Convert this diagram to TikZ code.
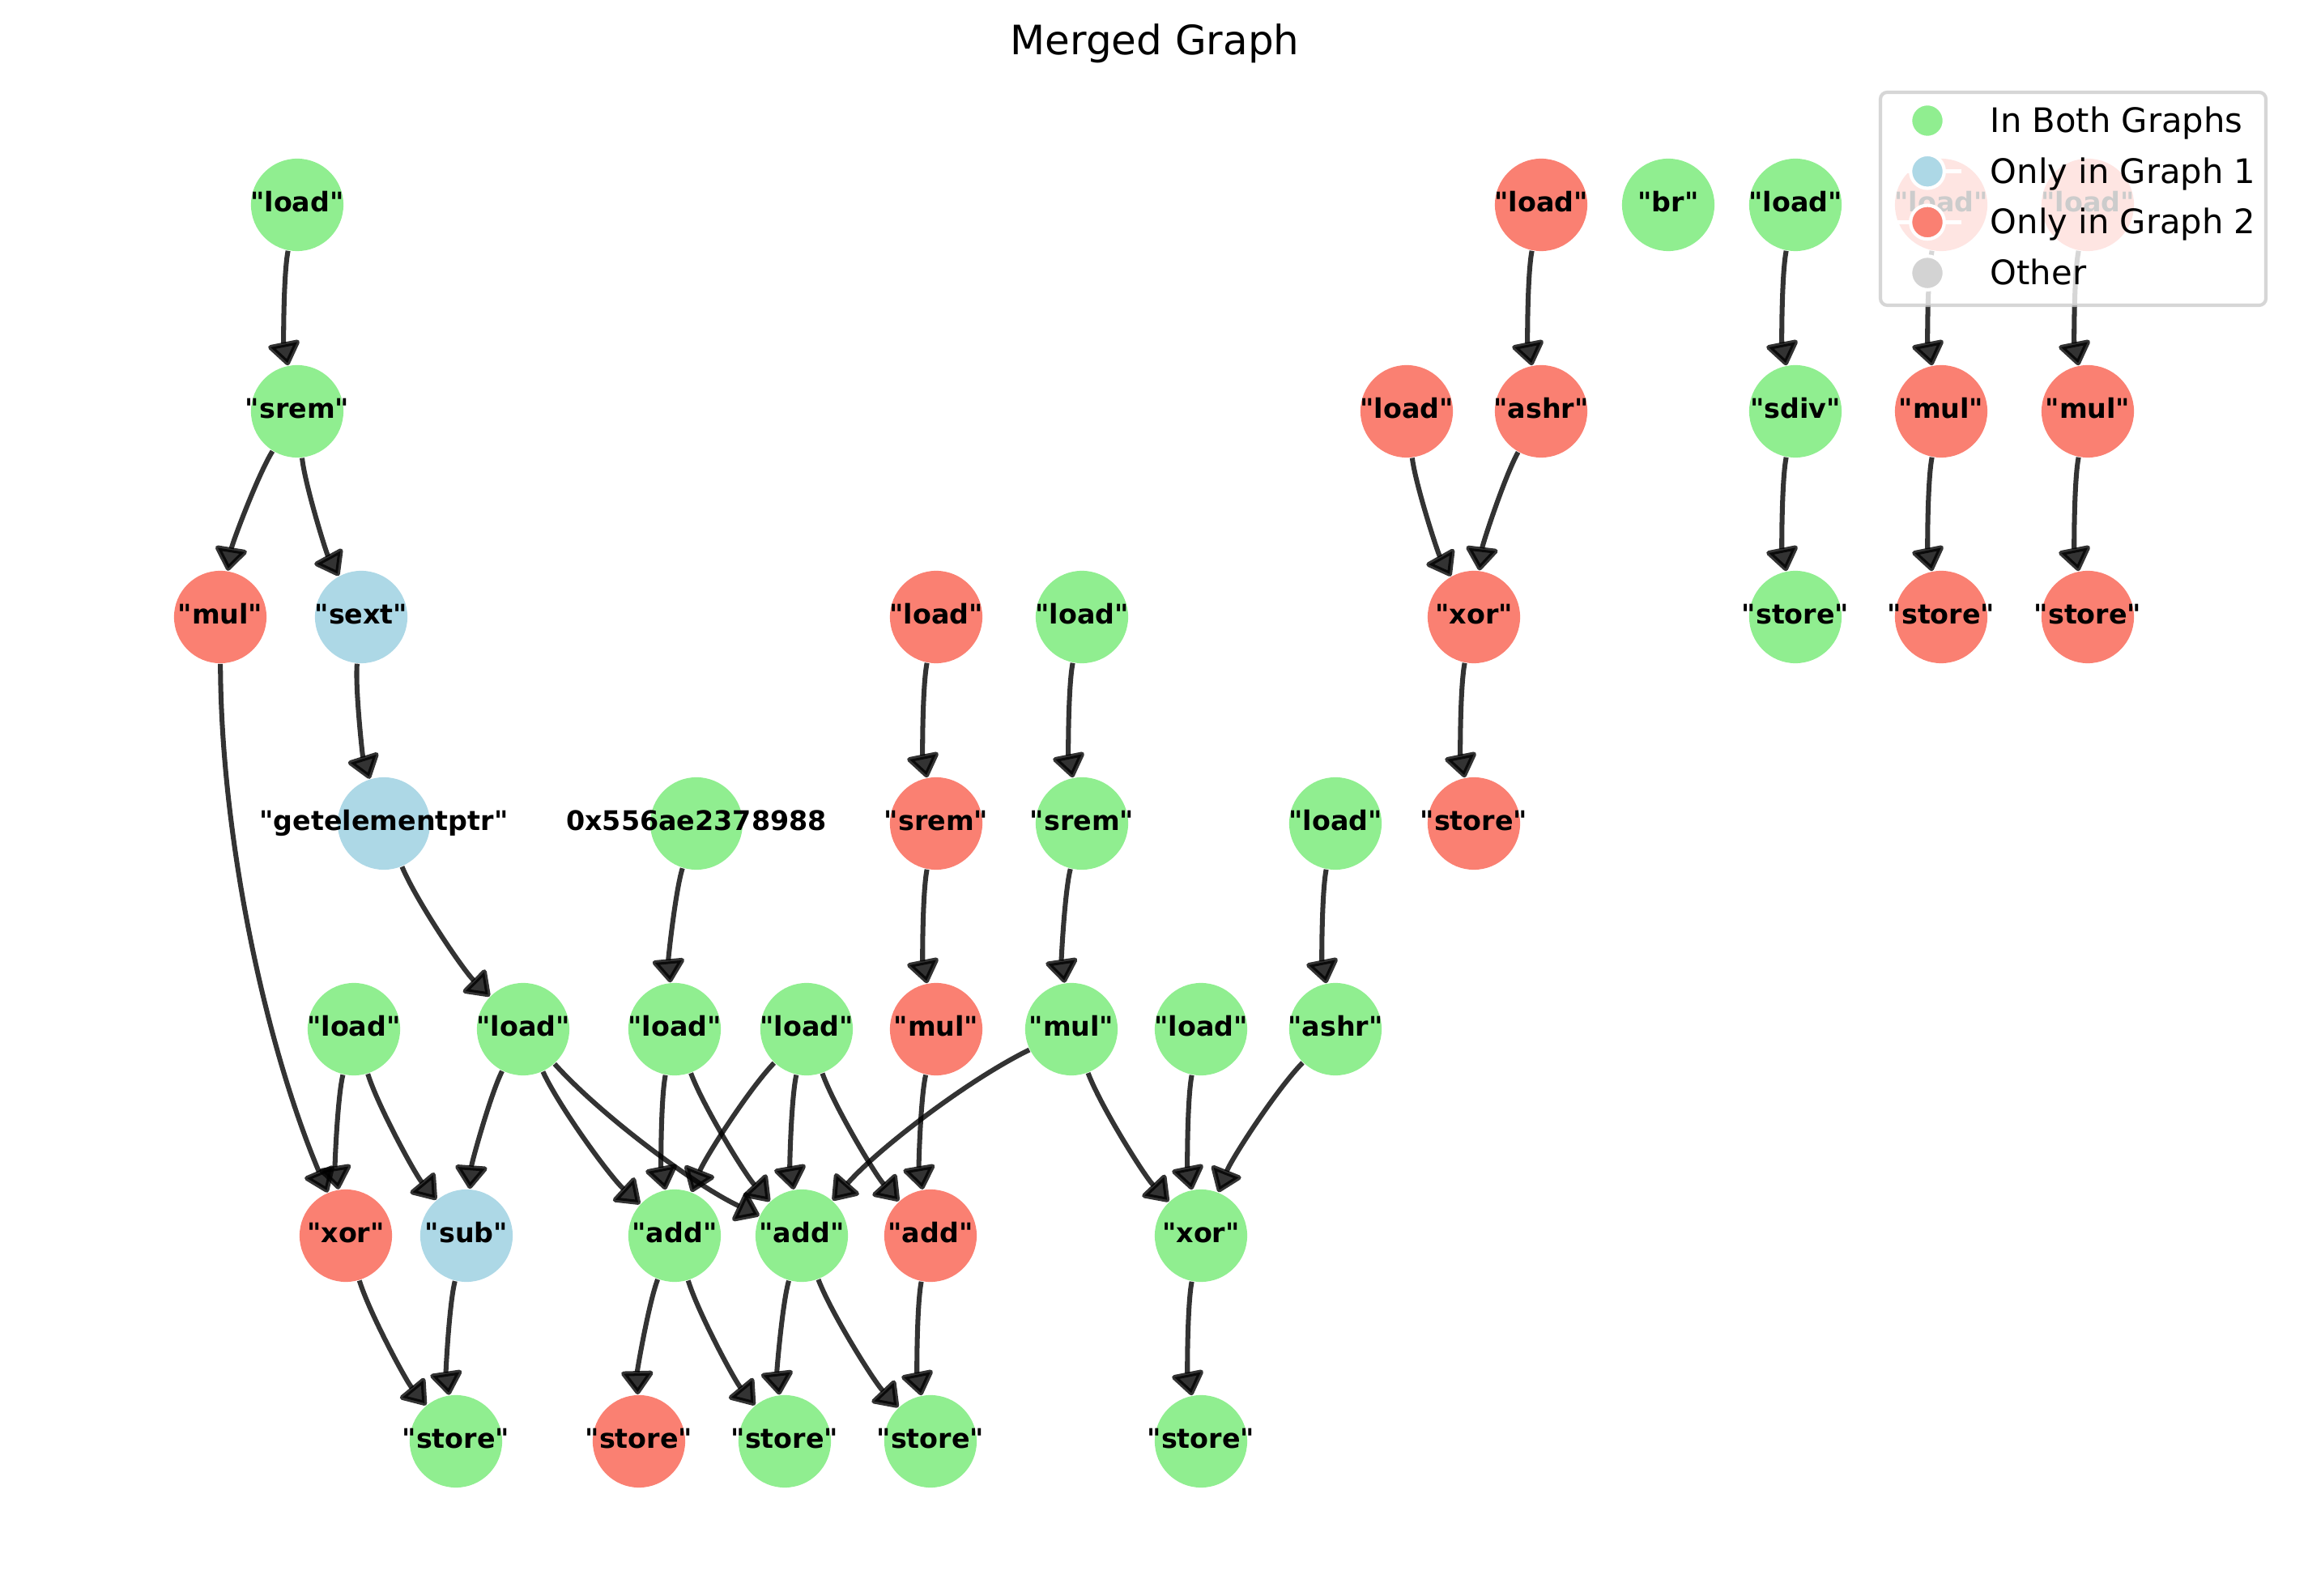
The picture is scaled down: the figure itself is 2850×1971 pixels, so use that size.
\documentclass[tikz,border=0pt]{standalone}
\usepackage{fontspec}
\newfontfamily\nxfont{DejaVu Sans}
\usetikzlibrary{arrows.meta,positioning,calc}

\definecolor{nxgreen}{HTML}{90EE90}
\definecolor{nxblue}{HTML}{ADD8E6}
\definecolor{nxred}{HTML}{FA8072}
\definecolor{nxgray}{HTML}{D3D3D3}

\begin{document}
\begin{tikzpicture}[
  x=0.24pt, y=0.24pt,
  lbl/.style={font=\nxfont\bfseries\fontsize{8}{9.6}\selectfont, inner sep=0pt, text height=6.1pt, text depth=1.9pt},
  nd/.style={circle, minimum size=27.4pt, inner sep=0pt, label={[lbl]center:#1}},
  both/.style={nd=#1, fill=nxgreen},
  one/.style={nd=#1, fill=nxblue},
  two/.style={nd=#1, fill=nxred},
  edge/.style={draw=black, opacity=0.8, line width=1.45pt, -{Triangle[length=7.5pt,width=10.5pt,round]}},
  legbox/.style={draw=black!20, fill=white, opacity=0.8, line width=1pt, rounded corners=2pt},
  legtext/.style={font=\nxfont\fontsize{10}{12}\selectfont, anchor=base west, inner sep=0pt}
]
\useasboundingbox (0,0) rectangle (2850,-1971);

% ---- Row 1 ----
\node[both="load"] (l1) at (367,-253) {};
\node[two="load"] (l2) at (1903,-253) {};
\node[both="br"] (br) at (2060,-253) {};
\node[both="load"] (l3) at (2217,-253) {};
\node[two="load"] (l4) at (2397,-253) {};
\node[two="load"] (l5) at (2578,-253) {};

% ---- Row 2 ----
\node[both="srem"] (srem1) at (367,-508) {};
\node[two="load"] (l6) at (1737,-508) {};
\node[two="ashr"] (ashr1) at (1903,-508) {};
\node[both="sdiv"] (sdiv) at (2217,-508) {};
\node[two="mul"] (mul1) at (2397,-508) {};
\node[two="mul"] (mul2) at (2578,-508) {};

% ---- Row 3 ----
\node[two="mul"] (mul3) at (272,-762) {};
\node[one="sext"] (sext) at (446,-762) {};
\node[two="load"] (l7) at (1156,-762) {};
\node[both="load"] (l8) at (1336,-762) {};
\node[two="xor"] (xor1) at (1820,-762) {};
\node[both="store"] (st1) at (2217,-762) {};
\node[two="store"] (st2) at (2397,-762) {};
\node[two="store"] (st3) at (2578,-762) {};

% ---- Row 4 ----
\node[one="getelementptr"] (gep) at (474,-1017) {};
\node[both=0x556ae2378988] (ptr) at (860,-1017) {};
\node[two="srem"] (srem2) at (1156,-1017) {};
\node[both="srem"] (srem3) at (1336,-1017) {};
\node[both="load"] (l9) at (1649,-1017) {};
\node[two="store"] (st4) at (1820,-1017) {};

% ---- Row 5 ----
\node[both="load"] (l10) at (437,-1271) {};
\node[both="load"] (l11) at (646,-1271) {};
\node[both="load"] (l12) at (833,-1271) {};
\node[both="load"] (l13) at (996,-1271) {};
\node[two="mul"] (mul4) at (1156,-1271) {};
\node[both="mul"] (mul5) at (1323,-1271) {};
\node[both="load"] (l14) at (1483,-1271) {};
\node[both="ashr"] (ashr2) at (1649,-1271) {};

% ---- Row 6 ----
\node[two="xor"] (xor2) at (427,-1526) {};
\node[one="sub"] (sub) at (576,-1526) {};
\node[both="add"] (add1) at (833,-1526) {};
\node[both="add"] (add2) at (990,-1526) {};
\node[two="add"] (add3) at (1149,-1526) {};
\node[both="xor"] (xor3) at (1483,-1526) {};

% ---- Row 7 ----
\node[both="store"] (st5) at (563,-1780) {};
\node[two="store"] (st6) at (789,-1780) {};
\node[both="store"] (st7) at (969,-1780) {};
\node[both="store"] (st8) at (1149,-1780) {};
\node[both="store"] (st9) at (1483,-1780) {};

% ---- Edges (arc3, rad 0.1) ----
\foreach \a/\b in {l1/srem1,srem1/mul3,srem1/sext,sext/gep,mul3/xor2,gep/l11,ptr/l12,
  l10/xor2,l10/sub,l11/sub,l11/add1,l11/add2,l12/add1,l12/add2,l13/add1,l13/add2,l13/add3,
  mul4/add3,mul5/add2,mul5/xor3,l14/xor3,ashr2/xor3,xor2/st5,sub/st5,add1/st6,add1/st7,
  add2/st7,add2/st8,add3/st8,xor3/st9,l7/srem2,srem2/mul4,l8/srem3,srem3/mul5,l9/ashr2,
  l2/ashr1,l6/xor1,ashr1/xor1,xor1/st4,l3/sdiv,sdiv/st1,l4/mul1,mul1/st2,l5/mul2,mul2/st3} {
  \draw[edge] (\a) .. controls ($(\a)!0.34!-11.3:(\b)$) and ($(\b)!0.34!11.3:(\a)$) .. (\b);
}

% ---- Title ----
\node[font=\nxfont\fontsize{12}{14.4}\selectfont, anchor=base] (title) at (1426,-68) {Merged Graph};

% ---- Legend ----
\draw[legbox] (2322,-114) rectangle (2798,-377);
\foreach \c/\t [count=\i] in {nxgreen/In Both Graphs,nxblue/Only in Graph 1,nxred/Only in Graph 2,nxgray/Other} {
  \draw[white, line width=1.3pt] (2338,{-86.3-62.7*\i}) -- (2422,{-86.3-62.7*\i});
  \draw[white, line width=1pt, fill=\c] (2380,{-86.3-62.7*\i}) circle (5pt);
  \node[legtext] (leg\i) at (2457,{-100.8-62.7*\i}) {\t};
}

\end{tikzpicture}
\end{document}
